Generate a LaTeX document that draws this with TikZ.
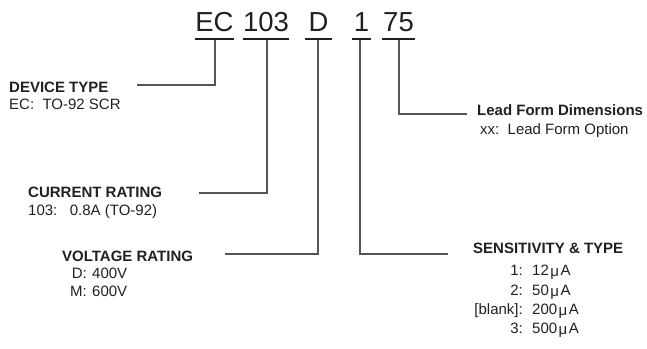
\documentclass[tikz,border=0pt]{standalone}
\usepackage{fontspec}
\setmainfont{Liberation Sans}
\definecolor{ink}{HTML}{231F20}
\definecolor{leader}{HTML}{555555}
\begin{document}
\begin{tikzpicture}[x=1bp,y=-1bp,
  codepart/.style={anchor=base,inner xsep=0pt,inner ysep=0pt,text=ink,
    font=\fontsize{27.5bp}{30bp}\selectfont},
  uline/.style={draw=ink,line width=2bp},
  lead/.style={draw=leader,line width=1.2bp},
  head/.style={anchor=base west,inner sep=0pt,text=ink,font=\fontsize{15bp}{17bp}\selectfont\bfseries},
  body/.style={anchor=base west,inner sep=0pt,text=ink,font=\fontsize{15bp}{17bp}\selectfont},
  bodyr/.style={anchor=base east,inner sep=0pt,text=ink,font=\fontsize{15bp}{17bp}\selectfont}]
\useasboundingbox (0,0) rectangle (647,348);
\newcommand{\uA}{\kern1.5bp\raisebox{-1.2bp}{μ}\kern1.5bp A}
% code parts
\node[codepart] (ec) at (214.5,31) {EC};
\node[codepart] (cr) at (266,31) {103};
\node[codepart] (vr) at (318.5,31) {D};
\node[codepart] (st) at (361.5,31) {1};
\node[codepart] (lf) at (398.5,31) {75};
% underlines
\coordinate (ecL) at (195,38.5); \coordinate (ecR) at (234,38.5);
\coordinate (crL) at (243,38.5); \coordinate (crR) at (289,38.5);
\coordinate (vrL) at (305,38.5); \coordinate (vrR) at (332,38.5);
\coordinate (stL) at (352,38.5); \coordinate (stR) at (371,38.5);
\coordinate (lfL) at (382,38.5); \coordinate (lfR) at (415,38.5);
\draw[uline] (ecL) -- (ecR);
\draw[uline] (crL) -- (crR);
\draw[uline] (vrL) -- (vrR);
\draw[uline] (stL) -- (stR);
\draw[uline] (lfL) -- (lfR);
% leader start points
\coordinate (ecT) at (215,39.5);
\coordinate (crT) at (267,39.5);
\coordinate (vrT) at (318,39.5);
\coordinate (stT) at (360,39.5);
\coordinate (lfT) at (399,39.5);
% leader end points
\coordinate (ecE) at (137,85);
\coordinate (crE) at (199,193);
\coordinate (vrE) at (225,254);
\coordinate (stE) at (448,254);
\coordinate (lfE) at (467,114);
\draw[lead] (ecT) |- (ecE);
\draw[lead] (crT) |- (crE);
\draw[lead] (vrT) |- (vrE);
\draw[lead] (stT) |- (stE);
\draw[lead] (lfT) |- (lfE);
% device type
\node[head] (dth) at (9,92) {DEVICE TYPE};
\node[body] (dtb) at (9,109) {EC:\ \ TO-92 SCR};
% current rating
\node[head] (crh) at (28,197) {CURRENT RATING};
\node[body] (crb) at (28,215) {103:\ \ \ 0.8A (TO-92)};
% voltage rating
\node[head] (vrh) at (62,261) {VOLTAGE RATING};
\node[bodyr] (vr1k) at (87,278) {D:};
\node[body] (vr1v) at (92,278) {400V};
\node[bodyr] (vr2k) at (87,296) {M:};
\node[body] (vr2v) at (92,296) {600V};
% lead form
\node[head] (lfh) at (477,115) {Lead Form Dimensions};
\node[body] (lfb) at (480,134) {xx:\ \ Lead Form Option};
% sensitivity
\node[head] (sth) at (473,253) {SENSITIVITY \& TYPE};
\node[bodyr] (st1k) at (523,275) {1:};
\node[body] (st1v) at (532,275) {12\uA};
\node[bodyr] (st2k) at (523,295) {2:};
\node[body] (st2v) at (532,295) {50\uA};
\node[bodyr] (st3k) at (523,314) {[blank]:};
\node[body] (st3v) at (532,314) {200\uA};
\node[bodyr] (st4k) at (523,333) {3:};
\node[body] (st4v) at (532,333) {500\uA};
\end{tikzpicture}
\end{document}
